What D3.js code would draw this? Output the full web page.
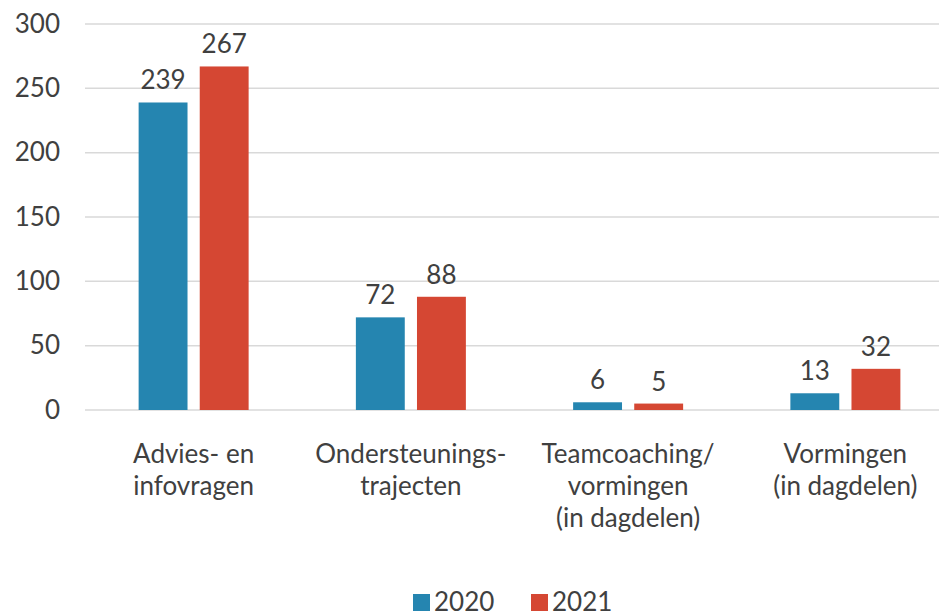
<!DOCTYPE html>
<html>
<head>
<meta charset="utf-8">
<script src="https://cdn.jsdelivr.net/npm/d3@7"></script>
<style>
  body { margin: 0; background: #fff; }
  text { font-family: Lato, sans-serif; fill: #404040; }
</style>
</head>
<body>
<div id="chart"></div>
<script>
const categories = [
  ['Advies- en', 'infovragen'],
  ['Ondersteunings-', 'trajecten'],
  ['Teamcoaching/', 'vormingen', '(in dagdelen)'],
  ['Vormingen', '(in dagdelen)']
];
const years = ['2020', '2021'];
const values2020 = [239, 72, 6, 13];
const values2021 = [267, 88, 5, 32];
const yTicks = [0, 50, 100, 150, 200, 250, 300];
const colors = ['#2585B0', '#D54733'];

const w = 939;
const h = 616;
const plotLeft = 85;
const plotRight = 954;
const plotTop = 24;
const plotBottom = 410;
const fontSize = '26px';

const series = [values2020, values2021];

const svg = d3.select('#chart')
  .append('svg')
  .attr('width', w)
  .attr('height', h);

const xScale = d3.scaleBand()
  .domain(d3.range(categories.length))
  .range([plotLeft, plotRight]);

const inner = d3.scaleBand()
  .domain(years)
  .range([xScale.bandwidth() / 2 - 55, xScale.bandwidth() / 2 + 55])
  .paddingInner(0.2);

const yScale = d3.scaleLinear()
  .domain([0, 300])
  .range([plotBottom, plotTop]);

// gridlines
svg.append('g')
  .selectAll('line')
  .data(yTicks)
  .enter()
  .append('line')
  .attr('x1', plotLeft)
  .attr('x2', w)
  .attr('y1', d => yScale(d))
  .attr('y2', d => yScale(d))
  .attr('stroke', '#d9d9d9')
  .attr('stroke-width', 1.5);

// y axis labels
const yAxis = d3.axisLeft(yScale).tickValues(yTicks).tickSize(0).tickPadding(25);
const yg = svg.append('g')
  .attr('transform', `translate(${plotLeft}, 0)`)
  .call(yAxis);
yg.select('.domain').remove();
yg.selectAll('text')
  .style('font-size', fontSize)
  .style('font-family', 'Lato, sans-serif')
  .attr('fill', '#404040');

// bars
years.forEach((yr, si) => {
  const g = svg.append('g');
  g.selectAll('rect')
    .data(series[si])
    .enter()
    .append('rect')
    .attr('x', (d, i) => xScale(i) + inner(yr))
    .attr('width', inner.bandwidth())
    .attr('y', d => yScale(d))
    .attr('height', d => plotBottom - yScale(d))
    .attr('fill', colors[si]);

  g.selectAll('text')
    .data(series[si])
    .enter()
    .append('text')
    .attr('x', (d, i) => xScale(i) + inner(yr) + inner.bandwidth() / 2)
    .attr('y', d => yScale(d) - 13)
    .attr('text-anchor', 'middle')
    .style('font-size', fontSize)
    .text(d => d);
});

// category labels
const cat = svg.append('g')
  .selectAll('text')
  .data(categories)
  .enter()
  .append('text')
  .attr('text-anchor', 'middle')
  .style('font-size', fontSize);

cat.selectAll('tspan')
  .data((d, i) => d.map(line => ({ line, i })))
  .enter()
  .append('tspan')
  .attr('x', d => xScale(d.i) + xScale.bandwidth() / 2)
  .attr('y', (d, j) => 463 + j * 32)
  .text(d => d.line);

// legend
const legendX = [413, 531];
const legend = svg.append('g')
  .selectAll('g')
  .data(years)
  .enter()
  .append('g')
  .attr('transform', (d, i) => `translate(${legendX[i]}, 594)`);

legend.append('rect')
  .attr('width', 17)
  .attr('height', 17)
  .attr('fill', (d, i) => colors[i]);

legend.append('text')
  .attr('x', 21)
  .attr('y', 17)
  .style('font-size', fontSize)
  .text(d => d);
</script>
</body>
</html>
